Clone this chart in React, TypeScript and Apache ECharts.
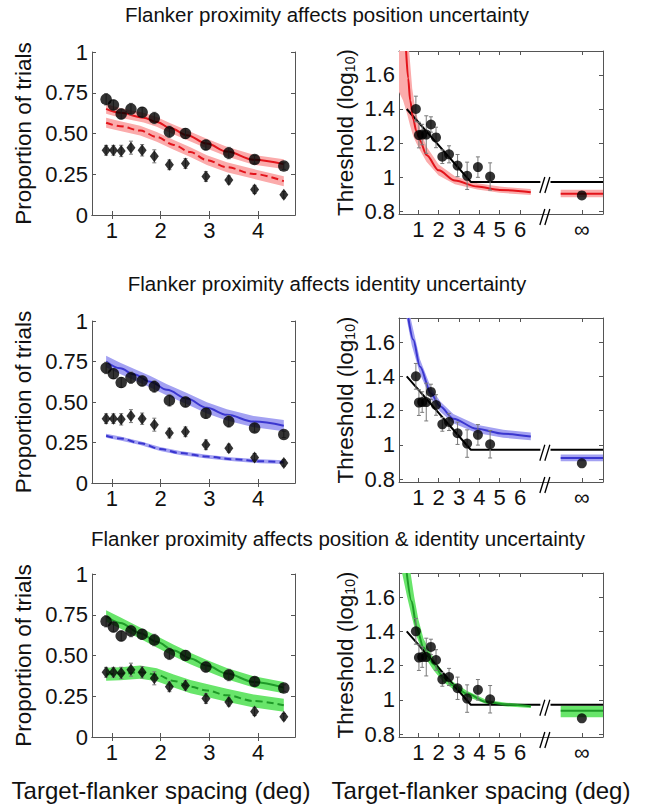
import React, { useEffect, useRef } from 'react';
import * as echarts from 'echarts';

// ---------- data ----------
const spacingX = [0.88, 1.03, 1.19, 1.39, 1.62, 1.87, 2.18, 2.51, 2.93, 3.40, 3.93, 4.53];
const correctProp = [0.71, 0.675, 0.62, 0.65, 0.63, 0.595, 0.51, 0.5, 0.43, 0.38, 0.34, 0.3];
const correctErr = [0.035, 0.03, 0.03, 0.035, 0.03, 0.035, 0.035, 0.03, 0.03, 0.035, 0.025, 0.02];
const misreportProp = [0.397, 0.397, 0.393, 0.413, 0.397, 0.36, 0.308, 0.316, 0.236, 0.215, 0.157, 0.124];
const misreportErr = [0.03, 0.03, 0.035, 0.04, 0.035, 0.04, 0.03, 0.03, 0.03, 0.025, 0.025, 0.02];

const thresholdY = [1.40, 1.247, 1.25, 1.25, 1.309, 1.233, 1.12, 1.134, 1.068, 1.008, 1.059, 1.004];
const thresholdErr = [0.075, 0.075, 0.06, 0.11, 0.045, 0.06, 0.04, 0.05, 0.065, 0.08, 0.06, 0.08];
const INF_X = 9.04;
const BREAK_X = 7.27;
const thresholdInf = 0.893;
const blackFitA = [[0.43, 1.40], [3.58, 0.972], [7.0, 0.972]];
const blackFitB = [[7.5, 0.972], [10.08, 0.972]];

// left-panel model curves [spacing, proportion]; band half-width alongside
const redSolid = [[0.88, 0.651], [1.17, 0.627], [1.65, 0.597], [1.92, 0.571], [2.2, 0.533], [2.54, 0.49], [2.95, 0.438], [3.36, 0.389], [3.91, 0.339], [4.53, 0.312]];
const redDashed = [[0.88, 0.566], [1.17, 0.545], [1.58, 0.518], [1.92, 0.479], [2.27, 0.43], [2.61, 0.386], [2.95, 0.337], [3.36, 0.293], [3.91, 0.252], [4.53, 0.207]];
const blueSolid = [[0.88, 0.75], [1.17, 0.708], [1.45, 0.671], [1.79, 0.625], [2.13, 0.575], [2.54, 0.521], [2.95, 0.464], [3.36, 0.421], [3.91, 0.379], [4.53, 0.354]];
const blueDashed = [[0.88, 0.292], [1.17, 0.275], [1.58, 0.246], [1.99, 0.21], [2.4, 0.185], [2.95, 0.163], [3.5, 0.146], [4.05, 0.134], [4.53, 0.129]];
const greenSolid = [[0.88, 0.742], [1.17, 0.7], [1.58, 0.637], [1.92, 0.584], [2.27, 0.531], [2.61, 0.482], [2.95, 0.438], [3.36, 0.389], [3.91, 0.338], [4.53, 0.303]];
const greenDashed = [[0.88, 0.385], [1.17, 0.388], [1.58, 0.398], [1.92, 0.382], [2.27, 0.344], [2.61, 0.309], [2.95, 0.285], [3.36, 0.256], [3.91, 0.221], [4.53, 0.195]];
const bandHalf = { redSolid: 0.03, redDashed: 0.03, blueSolid: 0.035, blueDashed: 0.012, greenSolid: 0.035, greenDashed: 0.04 };

// right-panel model curves [spacing, log threshold]
const redCurve = [[0.4, 1.74], [0.5, 1.58], [0.6, 1.45], [0.75, 1.34], [0.9, 1.27], [1.08, 1.215], [1.4, 1.13], [2.0, 1.04], [2.8, 0.98], [3.9, 0.945], [5.0, 0.925], [6.53, 0.912]];
const redUpper = [[0.55, 1.74], [0.7, 1.52], [0.85, 1.4], [1.08, 1.285], [1.4, 1.18], [2.0, 1.075], [2.8, 1.005], [3.9, 0.965], [5.0, 0.945], [6.53, 0.93]];
const redLower = [[0.05, 1.74], [0.05, 1.5], [0.25, 1.45], [0.45, 1.37], [0.6, 1.3], [0.75, 1.24], [0.9, 1.2], [1.08, 1.16], [1.4, 1.09], [2.0, 1.01], [2.8, 0.958], [3.9, 0.927], [5.0, 0.908], [6.53, 0.895]];
const redInf = [0.903, 0.882, 0.926];

const blueCurve = [[0.51, 1.74], [0.75, 1.614], [1.08, 1.457], [1.62, 1.3], [2.07, 1.225], [2.72, 1.153], [3.87, 1.094], [5.18, 1.065], [6.53, 1.049]];
const blueUpper = [[0.62, 1.74], [0.85, 1.62], [1.08, 1.5], [1.62, 1.335], [2.07, 1.255], [2.72, 1.18], [3.87, 1.118], [5.18, 1.088], [6.53, 1.072]];
const blueLower = [[0.42, 1.74], [0.68, 1.58], [1.08, 1.415], [1.62, 1.268], [2.07, 1.195], [2.72, 1.127], [3.87, 1.07], [5.18, 1.042], [6.53, 1.027]];
const blueInf = [0.924, 0.905, 0.944];

const greenCurve = [[0.43, 1.74], [0.67, 1.575], [0.92, 1.42], [1.25, 1.306], [1.74, 1.21], [2.23, 1.133], [2.72, 1.085], [3.38, 1.037], [4.36, 0.988], [5.34, 0.973], [6.53, 0.963]];
const greenUpper = [[0.62, 1.74], [0.8, 1.6], [1.0, 1.47], [1.25, 1.36], [1.74, 1.245], [2.23, 1.16], [2.72, 1.105], [3.38, 1.053], [4.36, 1.0], [5.34, 0.984], [6.53, 0.973]];
const greenLower = [[0.2, 1.74], [0.45, 1.6], [0.67, 1.49], [0.92, 1.37], [1.25, 1.262], [1.74, 1.175], [2.23, 1.105], [2.72, 1.063], [3.38, 1.02], [4.36, 0.977], [5.34, 0.962], [6.53, 0.953]];
const greenInf = [0.937, 0.899, 0.966];
const INF_SEG = [8.0, 10.08];

const leftYTicks = [0, 0.25, 0.5, 0.75, 1];
const leftXTicks = [1, 2, 3, 4];
const rightYTicks = [0.8, 1, 1.2, 1.4, 1.6];
const rightXTicks = [1, 2, 3, 4, 5, 6, INF_X];

const titles = [
  'Flanker proximity affects position uncertainty',
  'Flanker proximity affects identity uncertainty',
  'Flanker proximity affects position & identity uncertainty',
];
const xName = 'Target-flanker spacing (deg)';

// ---------- layout / style ----------
const FONT = '"Liberation Sans", Arial, Helvetica, sans-serif';
const AX = '#555';
const TXT = '#111';
const leftBoxes = [
  { left: 92, top: 52, width: 203, height: 163 },
  { left: 92, top: 321, width: 203, height: 162 },
  { left: 92, top: 574, width: 203, height: 163 },
];
const rightBoxes = [
  { left: 399, top: 51, width: 204, height: 163 },
  { left: 399, top: 318, width: 204, height: 164 },
  { left: 399, top: 573, width: 204, height: 164 },
];
const titleY = [14, 283, 538];
const titleX = [327, 327, 338];

const palettes = [
  { line: '#e3141b', band: '#fbabab' },
  { line: '#3a36cf', band: '#a3a1f2' },
  { line: '#1f9a28', band: '#68e56a' },
];

function bandSeries(xi: number, upper: number[][], lower: number[][], color: string) {
  return {
    type: 'custom',
    xAxisIndex: xi,
    yAxisIndex: xi,
    silent: true,
    z: 1,
    data: [[upper[0][0], upper[0][1]]],
    renderItem: (params: any, api: any) => {
      const pts = upper.map((p) => api.coord(p)).concat(lower.slice().reverse().map((p) => api.coord(p)));
      const cs = params.coordSys;
      return {
        type: 'group',
        clipPath: { type: 'rect', shape: { x: cs.x, y: cs.y, width: cs.width, height: cs.height } },
        children: [{ type: 'polygon', shape: { points: pts }, style: { fill: color } }],
      };
    },
  };
}

function lineSeries(xi: number, data: number[][], color: string, dashed = false, width = 2, smooth: any = 0.35) {
  return {
    type: 'line',
    xAxisIndex: xi,
    yAxisIndex: xi,
    data,
    showSymbol: false,
    symbol: 'none',
    smooth,
    smoothMonotone: 'x',
    silent: true,
    z: 3,
    lineStyle: { color, width, type: dashed ? [7, 4] : 'solid' },
  };
}

function errSeries(xi: number, xs: number[], ys: number[], es: number[]) {
  return {
    type: 'custom',
    xAxisIndex: xi,
    yAxisIndex: xi,
    silent: true,
    z: 4,
    data: xs.map((x, i) => [x, ys[i], es[i]]),
    encode: { x: 0, y: 1 },
    renderItem: (params: any, api: any) => {
      const x = api.value(0), y = api.value(1), e = api.value(2);
      const t = api.coord([x, y + e]);
      const b = api.coord([x, y - e]);
      const c = 2;
      const st = { stroke: '#7a7a7a', lineWidth: 1 };
      return {
        type: 'group',
        children: [
          { type: 'line', shape: { x1: t[0], y1: t[1], x2: b[0], y2: b[1] }, style: st },
          { type: 'line', shape: { x1: t[0] - c, y1: t[1], x2: t[0] + c, y2: t[1] }, style: st },
          { type: 'line', shape: { x1: b[0] - c, y1: b[1], x2: b[0] + c, y2: b[1] }, style: st },
        ],
      };
    },
  };
}

function scatterSeries(xi: number, xs: number[], ys: number[], symbol: string, size: any) {
  return {
    type: 'scatter',
    xAxisIndex: xi,
    yAxisIndex: xi,
    data: xs.map((x, i) => [x, ys[i]]),
    symbol,
    symbolSize: size,
    silent: true,
    z: 5,
    itemStyle: { color: '#000' },
  };
}

function breakSeries(xi: number, pts: number[][], dy: number[]) {
  return {
    type: 'custom',
    xAxisIndex: xi,
    yAxisIndex: xi,
    silent: true,
    z: 6,
    data: pts.map((p, i) => [p[0], p[1], dy[i]]),
    encode: { x: 0, y: 1 },
    renderItem: (params: any, api: any) => {
      const p = api.coord([api.value(0), api.value(1)]);
      const cx = p[0];
      const cy = p[1] + api.value(2);
      const st = { stroke: '#000', lineWidth: 1.3 };
      return {
        type: 'group',
        children: [
          { type: 'line', shape: { x1: cx - 6, y1: cy + 8, x2: cx - 1, y2: cy - 8 }, style: st },
          { type: 'line', shape: { x1: cx - 1, y1: cy + 8, x2: cx + 4, y2: cy - 8 }, style: st },
        ],
      };
    },
  };
}

function buildOption() {
  const grids: any[] = [];
  const xAxes: any[] = [];
  const yAxes: any[] = [];
  const series: any[] = [];
  const graphics: any[] = [];

  const tickStyle = { show: true, inside: true, length: 4, lineStyle: { color: AX, width: 1 } };
  const lineStyle = { show: true, lineStyle: { color: AX, width: 1 } };
  const labelStyle = { fontSize: 22, fontFamily: FONT, color: TXT };

  const leftCurves = [
    [redSolid, redDashed, bandHalf.redSolid, bandHalf.redDashed],
    [blueSolid, blueDashed, bandHalf.blueSolid, bandHalf.blueDashed],
    [greenSolid, greenDashed, bandHalf.greenSolid, bandHalf.greenDashed],
  ] as any[];
  const rightCurves = [
    [redCurve, redUpper, redLower, redInf],
    [blueCurve, blueUpper, blueLower, blueInf],
    [greenCurve, greenUpper, greenLower, greenInf],
  ] as any[];

  for (let r = 0; r < 3; r++) {
    const pal = palettes[r];
    // ----- left panel -----
    const li = grids.length;
    grids.push({ ...leftBoxes[r], containLabel: false });
    xAxes[li] = {
      type: 'value', gridIndex: li, min: 0.59, max: 4.76, position: 'bottom',
      axisLine: lineStyle, splitLine: { show: false },
      axisTick: { ...tickStyle, customValues: leftXTicks },
      axisLabel: { ...labelStyle, margin: 4, customValues: leftXTicks, formatter: (v: number) => String(v) },
    };
    yAxes[li] = {
      type: 'value', gridIndex: li, min: 0, max: 1, position: 'left',
      axisLine: lineStyle, splitLine: { show: false },
      axisTick: { ...tickStyle, customValues: leftYTicks },
      axisLabel: { ...labelStyle, margin: 4, customValues: leftYTicks, formatter: (v: number) => (v === 0 || v === 1 ? String(v) : v.toFixed(2)) },
      name: 'Proportion of trials', nameLocation: 'middle', nameRotate: 90, nameGap: 57,
      nameTextStyle: { fontSize: 22.5, fontFamily: FONT, color: TXT },
    };
    const [sol, das, hs, hd] = leftCurves[r];
    series.push(bandSeries(li, sol.map((p: number[]) => [p[0], p[1] + hs]), sol.map((p: number[]) => [p[0], p[1] - hs]), pal.band));
    series.push(bandSeries(li, das.map((p: number[]) => [p[0], p[1] + hd]), das.map((p: number[]) => [p[0], p[1] - hd]), pal.band));
    series.push(lineSeries(li, sol, pal.line));
    series.push(lineSeries(li, das, pal.line, true));
    series.push(errSeries(li, spacingX, correctProp, correctErr));
    series.push(errSeries(li, spacingX, misreportProp, misreportErr));
    series.push(scatterSeries(li, spacingX, correctProp, 'circle', 11.5));
    series.push(scatterSeries(li, spacingX, misreportProp, 'diamond', [9, 12]));

    // ----- right panel -----
    const ri = grids.length;
    grids.push({ ...rightBoxes[r], containLabel: false });
    xAxes[ri] = {
      type: 'value', gridIndex: ri, min: 0.05, max: 10.08, position: 'bottom',
      axisLine: lineStyle, splitLine: { show: false },
      axisTick: { ...tickStyle, customValues: rightXTicks },
      axisLabel: { ...labelStyle, margin: 4, customValues: rightXTicks, formatter: (v: number) => (Math.abs(v - INF_X) < 1e-6 ? '∞' : String(v)) },
    };
    yAxes[ri] = {
      type: 'value', gridIndex: ri, min: 0.784, max: 1.74, position: 'left',
      axisLine: lineStyle, splitLine: { show: false },
      axisTick: { ...tickStyle, customValues: rightYTicks },
      axisLabel: { ...labelStyle, margin: 4, customValues: rightYTicks, formatter: (v: number) => (Math.abs(v - 1) < 1e-9 ? '1' : v.toFixed(1)) },
      name: 'Threshold (log{sub|10})', nameLocation: 'middle', nameRotate: 90, nameGap: 42,
      nameTextStyle: {
        fontSize: 22.5, fontFamily: FONT, color: TXT,
        rich: { sub: { fontSize: 14, fontFamily: FONT, color: TXT, verticalAlign: 'bottom', padding: [10, 0, 0, 0] } },
      },
    };
    const [cur, up, lo, inf] = rightCurves[r];
    series.push(bandSeries(ri, up, lo, pal.band));
    series.push(bandSeries(ri, [[INF_SEG[0], inf[2]], [INF_SEG[1], inf[2]]], [[INF_SEG[0], inf[1]], [INF_SEG[1], inf[1]]], pal.band));
    series.push(lineSeries(ri, blackFitA, '#000', false, 2, false));
    series.push(lineSeries(ri, blackFitB, '#000', false, 2, false));
    series.push(lineSeries(ri, cur, pal.line, false, 2, 0.3));
    series.push(lineSeries(ri, [[INF_SEG[0], inf[0]], [INF_SEG[1], inf[0]]], pal.line, false, 2, false));
    series.push(errSeries(ri, spacingX, thresholdY, thresholdErr));
    series.push(scatterSeries(ri, spacingX, thresholdY, 'circle', 10));
    series.push(scatterSeries(ri, [INF_X], [thresholdInf], 'circle', 10));
    series.push(breakSeries(ri, [[BREAK_X, 0.972], [BREAK_X, 0.784]], [3, 3]));

    graphics.push({
      type: 'text', x: titleX[r], y: titleY[r],
      style: { text: titles[r], font: `20.5px ${FONT}`, fill: TXT, textAlign: 'center', textVerticalAlign: 'middle' },
    });
  }

  // mirror axes (top / right) with inside ticks, no labels
  const n = grids.length;
  for (let g = 0; g < n; g++) {
    const isLeft = g % 2 === 0;
    xAxes[n + g] = {
      type: 'value', gridIndex: g, min: xAxes[g].min, max: xAxes[g].max, position: 'top',
      axisLine: lineStyle, splitLine: { show: false },
      axisTick: { ...tickStyle, customValues: isLeft ? leftXTicks : rightXTicks },
      axisLabel: { show: false },
    };
    yAxes[n + g] = {
      type: 'value', gridIndex: g, min: yAxes[g].min, max: yAxes[g].max, position: 'right',
      axisLine: lineStyle, splitLine: { show: false },
      axisTick: { ...tickStyle, customValues: isLeft ? leftYTicks : rightYTicks },
      axisLabel: { show: false },
    };
  }

  graphics.push({
    type: 'text', x: 161, y: 790,
    style: { text: xName, font: `24px ${FONT}`, fill: TXT, textAlign: 'center', textVerticalAlign: 'middle' },
  });
  graphics.push({
    type: 'text', x: 481, y: 790,
    style: { text: xName, font: `24px ${FONT}`, fill: TXT, textAlign: 'center', textVerticalAlign: 'middle' },
  });

  return {
    animation: false,
    backgroundColor: '#fff',
    textStyle: { fontFamily: FONT },
    grid: grids,
    xAxis: xAxes,
    yAxis: yAxes,
    series,
    graphic: graphics,
  };
}

export default function App() {
  const ref = useRef<HTMLDivElement>(null);
  useEffect(() => {
    if (!ref.current) return;
    const chart = echarts.init(ref.current, undefined, { renderer: 'svg' });
    chart.setOption(buildOption() as any);
    return () => chart.dispose();
  }, []);
  return (
    <div
      ref={ref}
      style={{ position: 'absolute', left: 0, top: 0, width: 651, height: 808, background: '#fff' }}
    />
  );
}
